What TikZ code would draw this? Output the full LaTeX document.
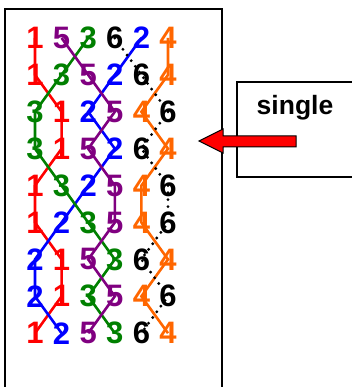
\documentclass[tikz,border=0pt]{standalone}
\usepackage{fontspec}
\setmainfont{Liberation Sans}
\usepackage{xcolor}
\definecolor{dig1}{RGB}{255,0,0}
\definecolor{dig2}{RGB}{0,0,255}
\definecolor{dig3}{RGB}{0,128,0}
\definecolor{dig4}{RGB}{255,102,0}
\definecolor{dig5}{RGB}{128,0,128}
\definecolor{dig6}{RGB}{0,0,0}

\begin{document}
\begin{tikzpicture}[x=1pt,y=1pt,
		digit/.style={inner sep=0pt,font=\fontsize{31}{31}\selectfont\bfseries},
		strand/.style={line width=2.6pt},
		dotstrand/.style={line width=3.2pt,line cap=round,dash pattern=on 0pt off 7pt}]
				\useasboundingbox (0,0) rectangle (352,387);
				\draw[line width=1.5pt] (5,-10) -- (5,378) -- (222,378) -- (222,-10);
				\foreach \perm [count=\r] in {{1,5,3,6,2,4},{1,3,5,2,6,4},{3,1,2,5,4,6},{3,1,5,2,6,4},{1,3,2,5,4,6},{1,2,3,5,4,6},{2,1,5,3,6,4},{2,1,3,5,4,6},{1,2,5,3,6,4}}
					\foreach \d [count=\c] in \perm
						\node[digit,text=dig\d] (n\d-\r) at ({35+26.6*(\c-1)},{349-36.9*(\r-1)}) {\d};
				\foreach \d in {1,...,5}
					\draw[strand,dig\d] (n\d-1.center) \foreach \r in {2,...,9} {-- (n\d-\r.center)};
				\draw[dotstrand] (n6-1.center) \foreach \r in {2,...,9} {-- (n6-\r.center)};
				\draw[line width=1.3pt] (360,305) -- (237,305) -- (237,210) -- (360,210);
				\node[font=\fontsize{26.5}{26.5}\selectfont\bfseries,anchor=base] (lbl) at (295,272) {single};
				\draw[fill=red,line width=1pt] (296,251) -- (223,251) -- (223,258) -- (199,246) -- (223,234) -- (223,240) -- (296,240) -- cycle;
			\end{tikzpicture}
\end{document}
